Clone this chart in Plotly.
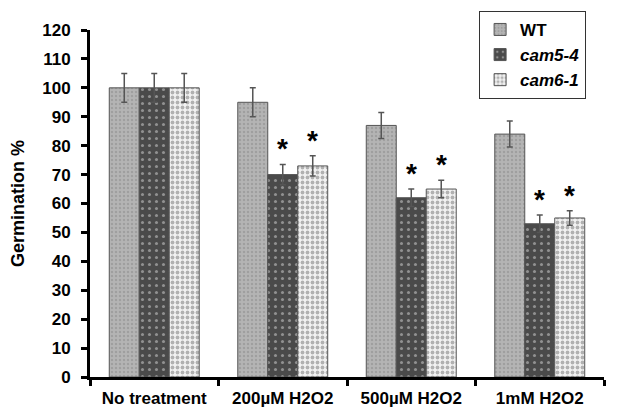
import plotly.graph_objects as go

categories = ["No treatment", "200µM H2O2", "500µM H2O2", "1mM H2O2"]
series_names = ["<b>WT</b>", "<b><i>cam5-4</i></b>", "<b><i>cam6-1</i></b>"]
wt = [100, 95, 87, 84]
cam5 = [100, 70, 62, 53]
cam6 = [100, 73, 65, 55]
wt_err = [5, 5, 4.5, 4.5]
cam5_err = [5, 3.5, 3, 3]
cam6_err = [5, 3.5, 3, 2.5]
sig_cam5 = [False, True, True, True]
sig_cam6 = [False, True, True, True]
y_ticks = list(range(0, 121, 10))

styles = [
    dict(bg="#b4b4b4", fg="#8a8a8a", shape=".", size=4, solidity=0.3),
    dict(bg="#4a4a4a", fg="#d8d8d8", shape=".", size=7, solidity=0.15),
    dict(bg="#f2f2f2", fg="#707070", shape=".", size=5, solidity=0.45),
]

BARGAP = 0.3
fig = go.Figure()
for name, vals, errs, st in zip(series_names, [wt, cam5, cam6], [wt_err, cam5_err, cam6_err], styles):
    fig.add_trace(go.Bar(
        x=categories, y=vals, name=name,
        marker=dict(color=st["bg"], line=dict(color="#555555", width=1),
                    pattern=dict(shape=st["shape"], fgcolor=st["fg"], bgcolor=st["bg"],
                                 size=st["size"], solidity=st["solidity"], fillmode="overlay")),
        error_y=dict(type="data", array=errs, color="#555555", thickness=1.5, width=3),
    ))

axfont = dict(size=17, family="Liberation Sans, Arial", color="black", weight="bold")
fig.update_layout(
    width=625, height=415,
    margin=dict(l=82, r=29, t=22, b=46, autoexpand=False),
    plot_bgcolor="white", paper_bgcolor="white",
    barmode="group", bargap=BARGAP, bargroupgap=0,
    font=dict(family="Liberation Sans, Arial", color="black"),
    legend=dict(x=0.757, y=1.055, xanchor="left", yanchor="top",
                bordercolor="#333333", borderwidth=1, bgcolor="white",
                font=dict(size=17, family="Liberation Sans, Arial", color="black"),
                tracegroupgap=0, itemwidth=30),
    xaxis=dict(range=[-0.5, 3.5], showline=True, linecolor="black", linewidth=3,
               ticks="outside", tickson="boundaries", ticklen=6, tickwidth=3, tickcolor="black",
               ticklabelstandoff=4,
               tickfont=axfont, showgrid=False, zeroline=False),
    yaxis=dict(range=[0, 120], tickvals=y_ticks, showline=True, linecolor="black", linewidth=3,
               ticks="outside", ticklen=6, tickwidth=3, tickcolor="black",
               ticklabelstandoff=7,
               tickfont=axfont,
               title=dict(text="<b>Germination %</b>", font=dict(size=18), standoff=14),
               showgrid=False, zeroline=False),
)

bw = (1 - BARGAP) / 3
for i, cat in enumerate(categories):
    for k, (vals, errs, sig) in enumerate([(cam5, cam5_err, sig_cam5), (cam6, cam6_err, sig_cam6)]):
        if sig[i]:
            xpos = i + k * bw
            fig.add_annotation(x=xpos, y=vals[i] + errs[i], text="<b>*</b>", showarrow=False,
                               yanchor="bottom", yshift=-2, font=dict(size=28, color="black"),
                               xref="x", yref="y")

fig.write_html("out.html")
